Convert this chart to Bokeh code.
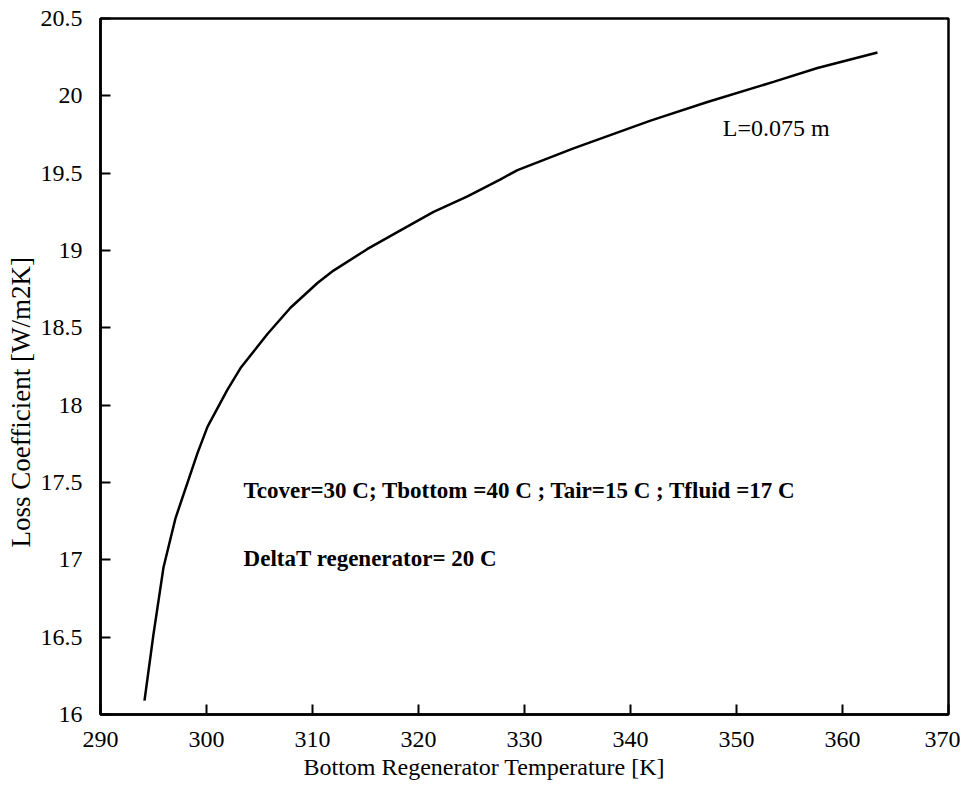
from bokeh.plotting import figure
from bokeh.models import Label, Title, FixedTicker, NumeralTickFormatter, Range1d
from bokeh.embed import file_html
from bokeh.resources import INLINE

# Data (Bottom regenerator temperature [K] vs loss coefficient [W/m2K])
temp_K = [294.15, 295.0, 295.94, 297.08, 299.15, 300.09, 301.98, 303.21, 305.75, 307.92,
          310.47, 311.98, 315.19, 318.30, 321.42, 324.62, 327.74, 329.34, 334.62, 341.89,
          347.26, 353.49, 357.64, 363.30]
loss_coef = [16.09, 16.52, 16.95, 17.27, 17.69, 17.86, 18.10, 18.24, 18.46, 18.63,
             18.79, 18.87, 19.01, 19.13, 19.25, 19.35, 19.46, 19.52, 19.66, 19.84,
             19.96, 20.09, 20.18, 20.28]

x_ticks = [290, 300, 310, 320, 330, 340, 350, 360, 370]
y_ticks = [16, 16.5, 17, 17.5, 18, 18.5, 19, 19.5, 20, 20.5]

x_title = "Bottom Regenerator Temperature [K]"
y_title = "Loss Coefficient [W/m2K]"
note_length = "L=0.075 m"
note_temps = "Tcover=30 C; Tbottom =40 C ; Tair=15 C ; Tfluid =17 C"
note_delta = "DeltaT  regenerator= 20 C"

FONT = "Liberation Serif"

p = figure(width=960, height=790, output_backend="svg", toolbar_location=None,
           x_range=Range1d(290, 370), y_range=Range1d(16, 20.5),
           min_border_left=100, min_border_right=12, min_border_top=18, min_border_bottom=76)

p.line(temp_K, loss_coef, line_color="black", line_width=2.5)

p.xgrid.visible = False
p.ygrid.visible = False
p.background_fill_color = "white"
p.border_fill_color = "white"
p.outline_line_color = "black"
p.outline_line_width = 2.5
p.outline_line_alpha = 1.0

for ax in (p.xaxis[0], p.yaxis[0]):
    ax.axis_line_color = "black"
    ax.axis_line_width = 2.5
    ax.major_tick_line_color = "black"
    ax.major_tick_line_width = 2
    ax.major_tick_in = 10
    ax.major_tick_out = 0
    ax.minor_tick_line_color = None
    ax.major_label_text_font = FONT
    ax.major_label_text_font_size = "24px"
    ax.major_label_text_color = "black"

p.xaxis[0].ticker = FixedTicker(ticks=x_ticks)
p.yaxis[0].ticker = FixedTicker(ticks=y_ticks)
p.yaxis[0].formatter = NumeralTickFormatter(format="0.[0]")
p.xaxis[0].formatter = NumeralTickFormatter(format="0")
p.xaxis[0].major_label_standoff = 17
p.yaxis[0].major_label_standoff = 18

# axis titles (offset from the frame centre, as in the reference)
p.add_layout(Title(text=x_title, text_font=FONT, text_font_size="24px",
                   text_font_style="normal", text_color="black",
                   align="left", offset=203, standoff=4), "below")
p.add_layout(Title(text=y_title, text_font=FONT, text_font_size="27px",
                   text_font_style="normal", text_color="black",
                   align="left", offset=167, standoff=4), "left")

p.add_layout(Label(x=348.7, y=19.79, text=note_length, text_font=FONT,
                   text_font_size="24px", text_color="black", text_baseline="middle"))
p.add_layout(Label(x=303.5, y=17.45, text=note_temps, text_font=FONT,
                   text_font_size="23px", text_font_style="bold", text_color="black",
                   text_baseline="middle"))
p.add_layout(Label(x=303.5, y=17.01, text=note_delta, text_font=FONT,
                   text_font_size="23px", text_font_style="bold", text_color="black",
                   text_baseline="middle"))

open("out.html", "w").write(file_html(p, INLINE))
